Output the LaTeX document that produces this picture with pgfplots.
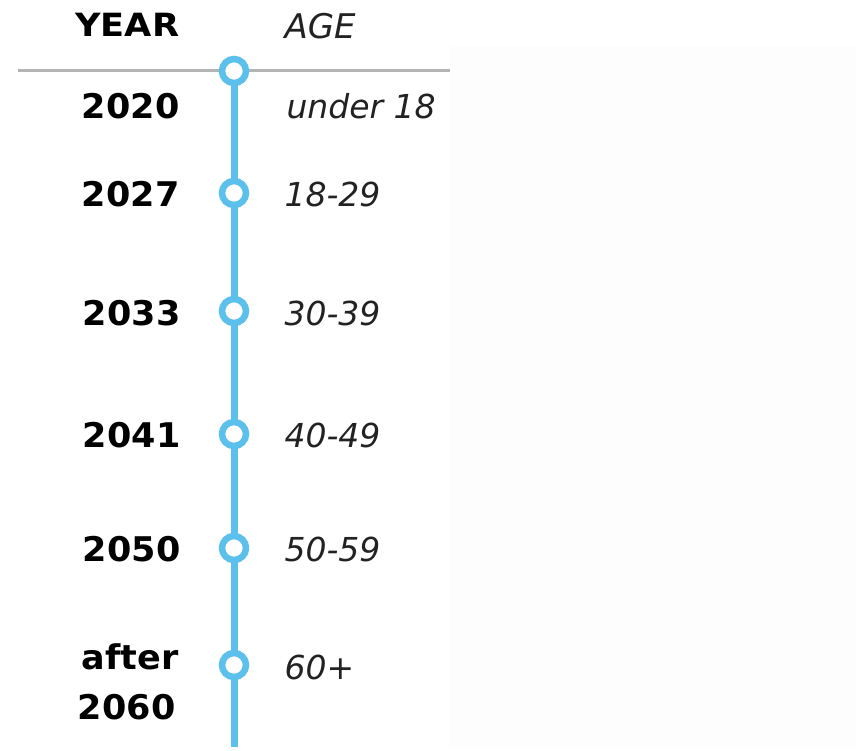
\documentclass[border=0pt]{standalone}
\usepackage{fontspec}
\setmainfont{DejaVu Sans}
\usepackage{pgfplots}
\pgfplotsset{compat=1.18}
\definecolor{tlblue}{HTML}{5BC0EB}
\definecolor{tlgray}{HTML}{B4B4B4}
\definecolor{bgoff}{HTML}{FDFDFD}
\definecolor{agetxt}{HTML}{222222}
\begin{document}
\begin{tikzpicture}
\begin{axis}[
  width=856pt, height=747pt, scale only axis,
  xmin=0, xmax=856, ymin=0, ymax=747, y dir=reverse,
  hide axis, clip=false,
]
% background
\addplot[draw=none, fill=white] coordinates {(0,0) (856,0) (856,747) (0,747) (0,0)};
\addplot[draw=none, fill=bgoff] coordinates {(450,46) (856,46) (856,747) (450,747) (450,46)};
% header rule
\addplot[tlgray, line width=3pt] coordinates {(18,70) (450,70)};
% timeline
\addplot[tlblue, line width=7pt] coordinates {(234,72) (234,747)};
\addplot[only marks, mark=*, mark size=12pt,
  mark options={draw=tlblue, fill=white, line width=6.5pt}]
  coordinates {(234,71) (234,193) (234,311) (234,434) (234,548) (234,665)};
% header text
\node[anchor=base east, font=\fontsize{32}{38}\selectfont\bfseries, xscale=1.1, text=black] at (axis cs:183,36) {YEAR};
\node[anchor=base west, font=\fontsize{34}{38}\selectfont\itshape, text=agetxt] at (axis cs:281,38) {AGE};
% years
\begin{scope}[every node/.style={anchor=base east, font=\fontsize{34}{38}\selectfont\bfseries, xscale=1.03, text=black}]
\node at (axis cs:183,118) {2020};
\node at (axis cs:183,206) {2027};
\node at (axis cs:184,325) {2033};
\node at (axis cs:184,447) {2041};
\node at (axis cs:184,561) {2050};
\node at (axis cs:182,669) {after};
\node at (axis cs:179,719) {2060};
\end{scope}
% ages
\begin{scope}[every node/.style={anchor=base west, font=\fontsize{33}{38}\selectfont\itshape, text=agetxt}]
\node at (axis cs:283,118) {under 18};
\node at (axis cs:281,206) {18-29};
\node at (axis cs:281,325) {30-39};
\node at (axis cs:281,447) {40-49};
\node at (axis cs:281,561) {50-59};
\node at (axis cs:281,679) {60+};
\end{scope}
\end{axis}
\end{tikzpicture}
\end{document}
